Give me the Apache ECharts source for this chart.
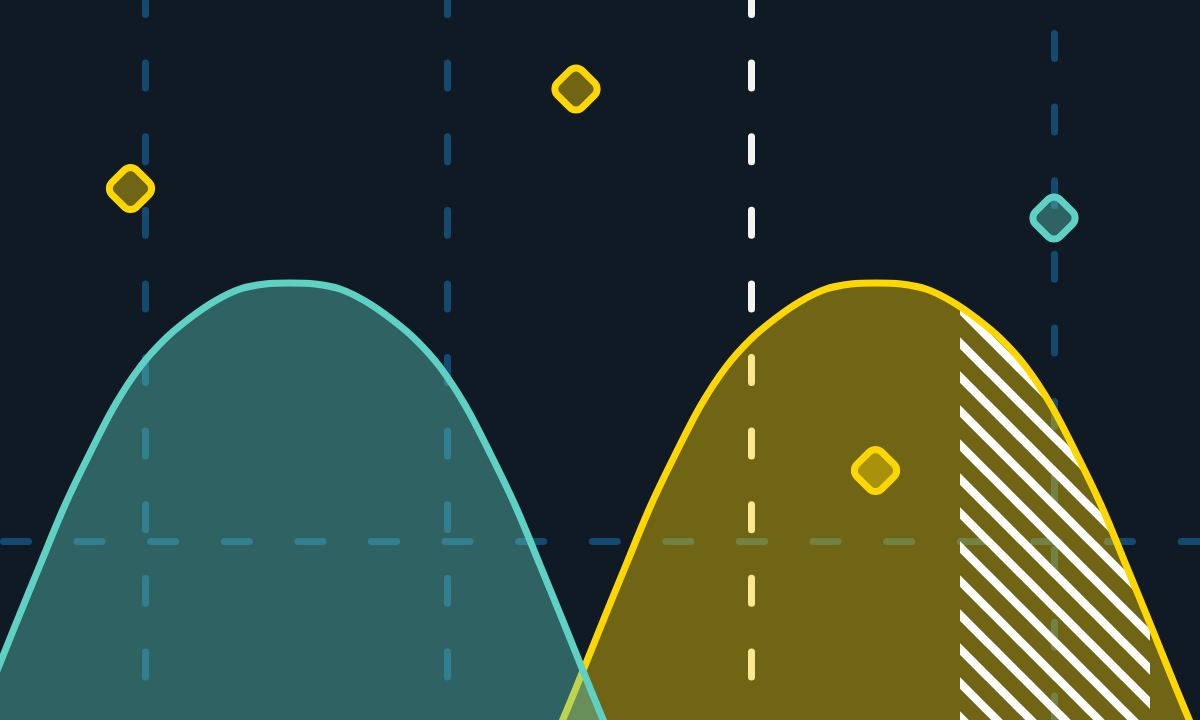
<!DOCTYPE html>
<html>
<head>
<meta charset="utf-8">
<script src="https://cdn.jsdelivr.net/npm/echarts@6/dist/echarts.min.js"></script>
<style>
  html, body { margin: 0; padding: 0; background: #0f1a24; }
  #chart { width: 1200px; height: 720px; }
</style>
</head>
<body>
<div id="chart"></div>
<script>
// ---- data (x in chart units, y = height above the baseline) ----
const tealX = [-35, -10, 15, 40, 65, 90, 115, 140, 165, 190, 215, 240, 265, 290, 315, 340, 365, 390, 415, 440, 465, 490, 515, 540, 565, 590, 615];
const tealY = [-28, 32, 94, 155, 215, 267, 315, 353, 381, 402, 419, 431, 436, 437, 436, 431, 419, 402, 381, 353, 315, 267, 215, 155, 94, 32, -28];

const goldX = [551, 576, 601, 626, 651, 676, 701, 726, 751, 776, 801, 826, 851, 876, 901, 926, 951, 976, 1001, 1026, 1051, 1076, 1101, 1126, 1151, 1176, 1201];
const goldY = [-28, 32, 94, 155, 215, 267, 315, 353, 381, 402, 419, 431, 436, 437, 436, 431, 419, 402, 381, 353, 315, 267, 215, 155, 94, 32, -28];

const hatchRange = [960, 1150];

const goldPointsX = [130.5, 576, 875.5];
const goldPointsY = [531.5, 631, 249.5];
const tealPointsX = [1054];
const tealPointsY = [502];

const gridLinesX = [145, 447];
const refLineX = 751;
const shortLineX = 1054;
const shortLineTop = 686.5;
const gridLineY = 179;

const X_MIN = 0, X_MAX = 1200, Y_MIN = 0, Y_MAX = 720;

// ---- colours ----
const BG = '#0f1a24';
const TEAL = '#5fd0c4';
const GOLD = '#ffd700';
const GUIDE = '#144a6f';
const WHITE = '#f4f4ee';
const SMOOTH = 0.34;

function zip(xs, ys) { return xs.map((x, i) => [x, ys[i]]); }

const tealData = zip(tealX, tealY);
const goldData = zip(goldX, goldY);

// stripe tile for the hatched area
function makeStripeTile() {
  const s = 34;
  const c = document.createElement('canvas');
  c.width = s; c.height = s;
  const ctx = c.getContext('2d');
  ctx.strokeStyle = '#ffffff';
  ctx.lineWidth = 8.3;
  for (let k = -2; k <= 2; k++) {
    ctx.beginPath();
    ctx.moveTo(-10, 29 + s * k - 10);
    ctx.lineTo(s + 10, 29 + s * k + s + 10);
    ctx.stroke();
  }
  return c;
}

const dash = [25, 48.6];
function vLine(x, top, color, offset) {
  return [
    { coord: [x, top], lineStyle: { color: color, width: 7, type: dash, dashOffset: offset, cap: 'round' } },
    { coord: [x, Y_MIN] }
  ];
}

const markLines = [];
gridLinesX.forEach(x => markLines.push(vLine(x, Y_MAX, GUIDE, 10.5)));
markLines.push(vLine(refLineX, Y_MAX, WHITE, 10.5));
markLines.push(vLine(shortLineX, shortLineTop, GUIDE, 0));
markLines.push([
  { coord: [X_MIN, gridLineY], lineStyle: { color: GUIDE, width: 7, type: dash, dashOffset: -3.5, cap: 'round' } },
  { coord: [X_MAX, gridLineY] }
]);

const W = 1200;
const chart = echarts.init(document.getElementById('chart'), null, { renderer: 'canvas' });
chart.setOption({
  backgroundColor: BG,
  animation: false,
  grid: [
    { left: 0, right: 0, top: 0, bottom: 0, show: false },
    // sub-grid that clips the hatched part of the gold curve
    { left: hatchRange[0] / X_MAX * W, width: (hatchRange[1] - hatchRange[0]) / X_MAX * W, top: 0, bottom: 0, show: false }
  ],
  xAxis: [
    { type: 'value', min: X_MIN, max: X_MAX, show: false, gridIndex: 0 },
    { type: 'value', min: hatchRange[0], max: hatchRange[1], show: false, gridIndex: 1 }
  ],
  yAxis: [
    { type: 'value', min: Y_MIN, max: Y_MAX, show: false, gridIndex: 0 },
    { type: 'value', min: Y_MIN, max: Y_MAX, show: false, gridIndex: 1 }
  ],
  series: [
    {
      name: 'guides', type: 'line', data: [], z: 1, silent: true,
      markLine: { z: 1, silent: true, symbol: ['none', 'none'], label: { show: false }, data: markLines }
    },
    {
      name: 'gold-area', type: 'line', data: goldData, smooth: SMOOTH, showSymbol: false, z: 2,
      lineStyle: { width: 0, opacity: 0 },
      areaStyle: { color: GOLD, opacity: 0.4, origin: 'start' }
    },
    {
      name: 'gold-hatch', type: 'line', data: goldData, smooth: SMOOTH, showSymbol: false, z: 3,
      xAxisIndex: 1, yAxisIndex: 1, clip: true,
      lineStyle: { width: 0, opacity: 0 },
      areaStyle: { color: { image: makeStripeTile(), repeat: 'repeat' }, opacity: 1, origin: 'start' }
    },
    {
      name: 'gold-line', type: 'line', data: goldData, smooth: SMOOTH, showSymbol: false, z: 4,
      lineStyle: { color: GOLD, width: 7 }
    },
    {
      name: 'teal', type: 'line', data: tealData, smooth: SMOOTH, showSymbol: false, z: 5,
      lineStyle: { color: TEAL, width: 7 },
      areaStyle: { color: TEAL, opacity: 0.4, origin: 'start' }
    },
    {
      name: 'gold-points', type: 'scatter', data: zip(goldPointsX, goldPointsY), z: 6,
      symbol: 'roundRect', symbolRotate: 45, symbolSize: 35,
      itemStyle: { color: 'rgba(255,215,0,0.4)', borderColor: GOLD, borderWidth: 7, opacity: 1 }
    },
    {
      name: 'teal-points', type: 'scatter', data: zip(tealPointsX, tealPointsY), z: 6,
      symbol: 'roundRect', symbolRotate: 45, symbolSize: 35,
      itemStyle: { color: 'rgba(95,208,196,0.4)', borderColor: TEAL, borderWidth: 7, opacity: 1 }
    }
  ]
});
</script>
</body>
</html>
